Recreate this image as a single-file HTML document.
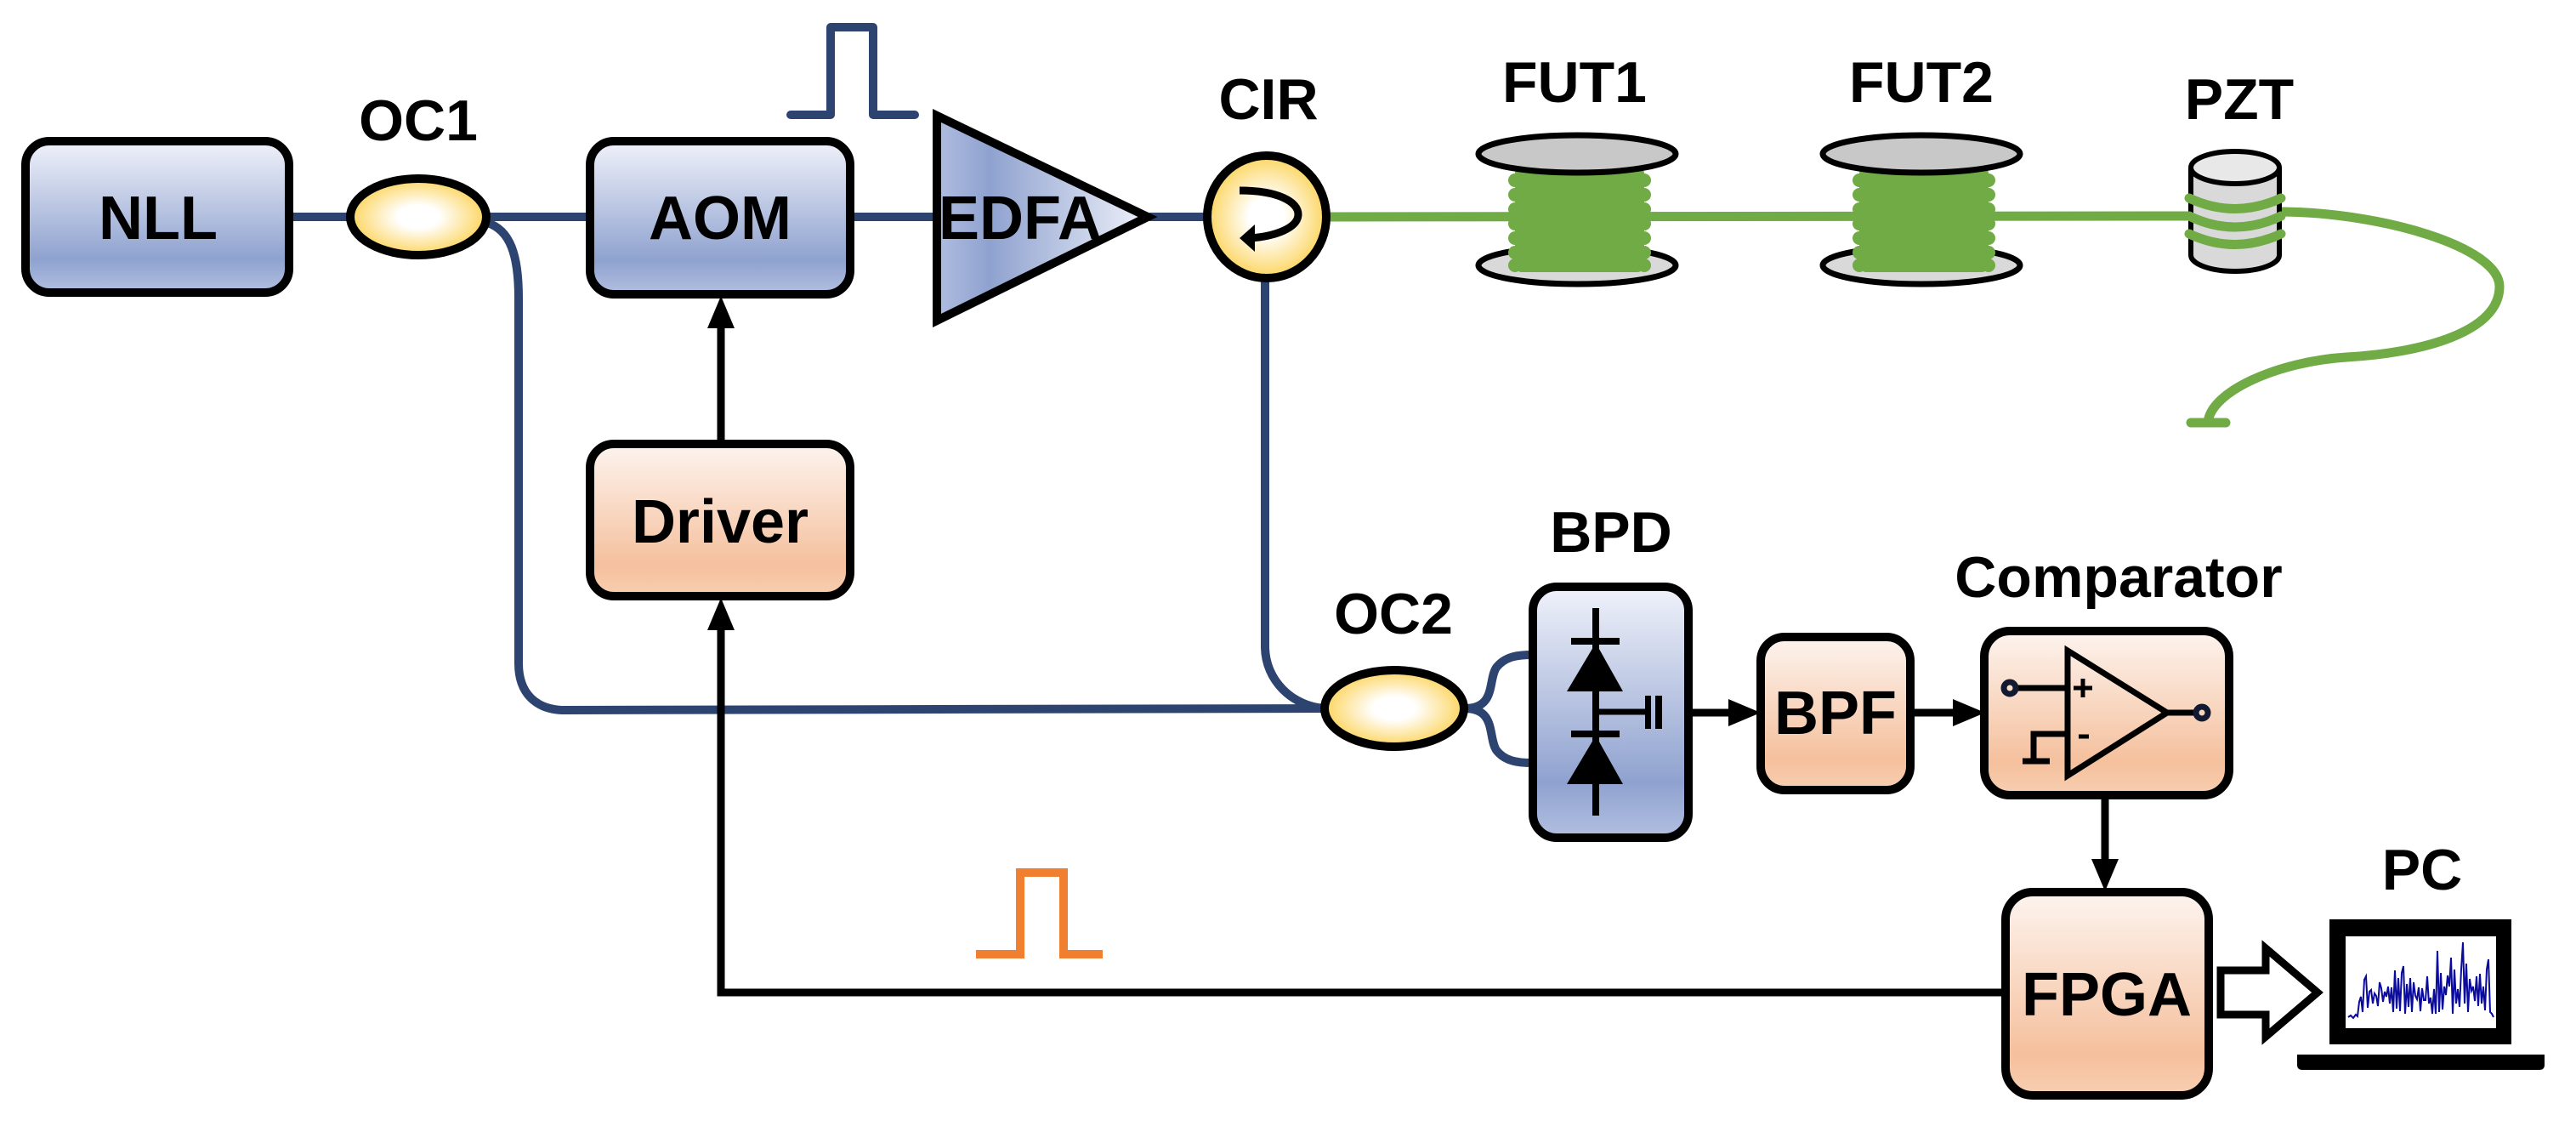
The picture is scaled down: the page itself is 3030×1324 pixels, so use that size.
<!DOCTYPE html>
<html><head><meta charset="utf-8"><style>html,body{margin:0;padding:0;background:#fff}svg{display:block}</style></head><body>
<svg xmlns="http://www.w3.org/2000/svg" width="3030" height="1324" viewBox="0 0 3030 1324">
<defs>
<linearGradient id="gb" x1="0" y1="0" x2="0" y2="1">
<stop offset="0" stop-color="#f0f2fa"/><stop offset="0.78" stop-color="#8fa2cf"/><stop offset="1" stop-color="#b2bfe0"/></linearGradient>
<linearGradient id="go" x1="0" y1="0" x2="0" y2="1">
<stop offset="0" stop-color="#fdf4ef"/><stop offset="0.8" stop-color="#f5c09d"/><stop offset="1" stop-color="#f7cfb2"/></linearGradient>
<linearGradient id="gt" x1="0" y1="0" x2="1" y2="0">
<stop offset="0" stop-color="#b0bde0"/><stop offset="0.25" stop-color="#8fa2cf"/><stop offset="1" stop-color="#eef1fa"/></linearGradient>
<radialGradient id="gy" cx="0.5" cy="0.5" r="0.5">
<stop offset="0.3" stop-color="#fff"/><stop offset="1" stop-color="#fcd560"/></radialGradient>
</defs>
<g font-family="Liberation Sans, Arial, sans-serif" font-weight="bold" fill="#000">

<!-- blue fiber lines -->
<g stroke="#2e4470" stroke-width="10" fill="none">
<line x1="339" y1="255" x2="412" y2="255"/>
<line x1="573" y1="255" x2="693" y2="255"/>
<line x1="1000" y1="255" x2="1100" y2="255"/>
<line x1="1352" y1="255" x2="1418" y2="255"/>
<path d="M573,262 C600,270 610,300 610,350 L610,780 C610,815 630,835 665,835 L1557,833"/>
<path d="M1488,328 L1488,760 C1488,800 1520,830 1557,833"/>
<path d="M1723,833 C1760,833 1750,800 1760,785 C1770,772 1785,770 1802,770"/>
<path d="M1723,833 C1760,833 1750,866 1760,882 C1770,895 1785,897 1802,897"/>
<path d="M930,135 L977,135 L977,32 L1027,32 L1027,135 L1076,135" stroke-linecap="round" stroke-linejoin="round"/>
</g>
<path d="M1148,1122 L1200,1122 L1200,1026 L1251,1026 L1251,1122 L1297,1122" stroke="#f08030" stroke-width="10" fill="none"/>

<!-- green fiber -->
<g stroke="#70ab46" stroke-width="11" fill="none" stroke-linecap="round">
<line x1="1563" y1="255" x2="2580" y2="254"/>
<path d="M2685,249 C2800,250 2940,290 2940,337 C2940,390 2850,415 2760,420 C2680,425 2600,460 2597,497"/>
<line x1="2577" y1="497" x2="2618" y2="497"/>
</g>

<!-- black signal lines -->
<g stroke="#000" stroke-width="9" fill="none">
<line x1="848" y1="522" x2="848" y2="380"/>
<path d="M2359,1167 L848,1167 L848,735"/>
<line x1="1987" y1="838" x2="2040" y2="838"/>
<line x1="2247" y1="838" x2="2305" y2="838"/>
<line x1="2476" y1="935" x2="2476" y2="1015"/>
</g>
<g fill="#000">
<polygon points="848,348 832,386 864,386"/>
<polygon points="848,703 832,741 864,741"/>
<polygon points="2071,838 2033,822 2033,854"/>
<polygon points="2335,838 2297,822 2297,854"/>
<polygon points="2476,1048 2460,1010 2492,1010"/>
</g>

<!-- boxes -->
<g stroke="#000" stroke-width="10">
<rect x="30" y="166" width="310" height="178" rx="28" fill="url(#gb)"/>
<rect x="694" y="166" width="306" height="180" rx="28" fill="url(#gb)"/>
<rect x="694" y="522" width="306" height="179" rx="28" fill="url(#go)"/>
<rect x="1803" y="690" width="183" height="295" rx="28" fill="url(#gb)"/>
<rect x="2071" y="749" width="176" height="180" rx="28" fill="url(#go)"/>
<rect x="2334" y="742" width="288" height="193" rx="30" fill="url(#go)"/>
<rect x="2359" y="1049" width="239" height="239" rx="32" fill="url(#go)"/>
<polygon points="1102,136 1102,377 1350,255" fill="url(#gt)"/>
<ellipse cx="492" cy="255" rx="80" ry="45" fill="url(#gy)"/>
<ellipse cx="1640" cy="833" rx="82" ry="45" fill="url(#gy)"/>
<ellipse cx="1490" cy="255" rx="70" ry="72" fill="url(#gy)"/>
</g>
<!-- CIR arrow -->
<path d="M1458,224 C1505,224 1527,238 1527,252 C1527,268 1500,278 1470,280" stroke="#000" stroke-width="9" fill="none"/>
<polygon points="1458,280 1476,264 1476,296" fill="#000"/>

<!-- fiber spools -->
<g>
<ellipse cx="1855" cy="312" rx="116" ry="22" fill="#d9d9d9" stroke="#000" stroke-width="7"/>
<ellipse cx="2260" cy="312" rx="116" ry="22" fill="#d9d9d9" stroke="#000" stroke-width="7"/>
<g fill="#70ab46">
<rect x="1782" y="196" width="152" height="124" rx="8"/>
<rect x="2187" y="196" width="152" height="124" rx="8"/>
<g id="sc">
<circle cx="1782" cy="212" r="8"/><circle cx="1782" cy="229" r="8"/><circle cx="1782" cy="246" r="8"/><circle cx="1782" cy="263" r="8"/><circle cx="1782" cy="280" r="8"/><circle cx="1782" cy="297" r="8"/><circle cx="1782" cy="312" r="8"/>
<circle cx="1934" cy="212" r="8"/><circle cx="1934" cy="229" r="8"/><circle cx="1934" cy="246" r="8"/><circle cx="1934" cy="263" r="8"/><circle cx="1934" cy="280" r="8"/><circle cx="1934" cy="297" r="8"/><circle cx="1934" cy="312" r="8"/>
</g>
<use href="#sc" transform="translate(405,0)"/>
</g>
<ellipse cx="1855" cy="181" rx="116" ry="22" fill="#c8c8c8" stroke="#000" stroke-width="7"/>
<ellipse cx="2260" cy="181" rx="116" ry="22" fill="#c8c8c8" stroke="#000" stroke-width="7"/>
<!-- PZT -->
<path d="M2577,197 L2577,300 A52,19 0 0 0 2681,300 L2681,197" fill="#d9d9d9" stroke="#000" stroke-width="6"/>
<ellipse cx="2629" cy="197" rx="52" ry="19" fill="#e8e8e8" stroke="#000" stroke-width="6"/>
<g stroke="#70ab46" stroke-width="11" fill="none" stroke-linecap="round">
<path d="M2575,233 Q2629,258 2683,233"/>
<path d="M2575,254 Q2629,280 2683,254"/>
<path d="M2575,275 Q2629,300 2683,275"/>
</g>
</g>

<!-- BPD diodes -->
<g fill="#000" stroke="#000">
<line x1="1877" y1="715" x2="1877" y2="959" stroke-width="8"/>
<line x1="1848" y1="754" x2="1905" y2="754" stroke-width="8"/>
<line x1="1848" y1="863" x2="1905" y2="863" stroke-width="8"/>
<polygon points="1877,756 1843,813 1909,813" stroke="none"/>
<polygon points="1877,865 1843,922 1909,922" stroke="none"/>
<line x1="1877" y1="837" x2="1937" y2="837" stroke-width="7"/>
<rect x="1935" y="818" width="7" height="39" stroke="none"/>
<rect x="1947" y="818" width="8" height="39" stroke="none"/>
</g>

<!-- comparator symbol -->
<g stroke="#000" stroke-width="7" fill="none">
<polygon points="2432,765 2432,912 2549,838"/>
<line x1="2370" y1="809" x2="2432" y2="809"/>
<line x1="2549" y1="838" x2="2582" y2="838"/>
<path d="M2432,863 L2392,863 L2392,895"/>
<line x1="2379" y1="895" x2="2411" y2="895"/>
<line x1="2439" y1="809" x2="2461" y2="809" stroke-width="5"/>
<line x1="2450" y1="798" x2="2450" y2="820" stroke-width="5"/>
<line x1="2445" y1="866" x2="2457" y2="866" stroke-width="5"/>
<circle cx="2364" cy="809" r="7" stroke="#111a30"/>
<circle cx="2590" cy="838" r="7" stroke="#111a30"/>
</g>

<!-- hollow arrow -->
<polygon points="2612,1141 2665,1141 2665,1115 2726,1167 2665,1219 2665,1193 2612,1193" fill="#fff" stroke="#000" stroke-width="9"/>

<!-- laptop -->
<rect x="2740" y="1081" width="214" height="147" fill="#000"/>
<rect x="2759" y="1101" width="177" height="108" fill="#fff"/>
<path d="M2702,1240 L2993,1240 L2993,1252 Q2993,1258 2987,1258 L2708,1258 Q2702,1258 2702,1252 Z" fill="#000"/>
<polyline fill="none" stroke="#0a0a9c" stroke-width="2" points="2762,1196 2765,1194 2768,1197 2771,1193 2773,1195 2775,1178 2777,1172 2779,1190 2781,1152 2783,1148 2785,1185 2787,1166 2789,1164 2791,1180 2793,1168 2795,1171 2797,1183 2799,1155 2801,1162 2803,1178 2805,1166 2807,1172 2809,1160 2811,1180 2813,1161 2815,1190 2817,1141 2819,1186 2821,1150 2823,1189 2825,1144 2827,1136 2829,1192 2831,1157 2833,1184 2835,1150 2837,1190 2839,1155 2841,1171 2843,1175 2845,1161 2847,1189 2849,1162 2851,1176 2853,1176 2855,1148 2857,1180 2859,1173 2861,1192 2863,1163 2865,1192 2867,1118 2869,1190 2871,1144 2873,1187 2875,1160 2877,1170 2879,1147 2881,1160 2883,1126 2885,1192 2887,1140 2889,1180 2891,1163 2893,1184 2895,1140 2897,1108 2899,1180 2901,1133 2903,1190 2905,1151 2907,1165 2909,1160 2911,1177 2913,1148 2915,1183 2917,1145 2919,1180 2921,1160 2923,1188 2925,1140 2927,1128 2929,1190 2931,1192 2933,1196"/>

<!-- labels -->
<g font-size="72" text-anchor="middle">
<text x="186" y="281">NLL</text>
<text x="847" y="281">AOM</text>
<text x="1200" y="281">EDFA</text>
<text x="847" y="638">Driver</text>
<text x="2159" y="863">BPF</text>
<text x="2478" y="1194">FPGA</text>
</g>
<g font-size="68" text-anchor="middle">
<text x="492" y="165">OC1</text>
<text x="1492" y="140">CIR</text>
<text x="1852" y="120">FUT1</text>
<text x="2260" y="120">FUT2</text>
<text x="2634" y="140">PZT</text>
<text x="1895" y="649">BPD</text>
<text x="1639" y="745">OC2</text>
<text x="2492" y="702">Comparator</text>
<text x="2849" y="1046">PC</text>
</g>
</g>
</svg>
</body></html>
